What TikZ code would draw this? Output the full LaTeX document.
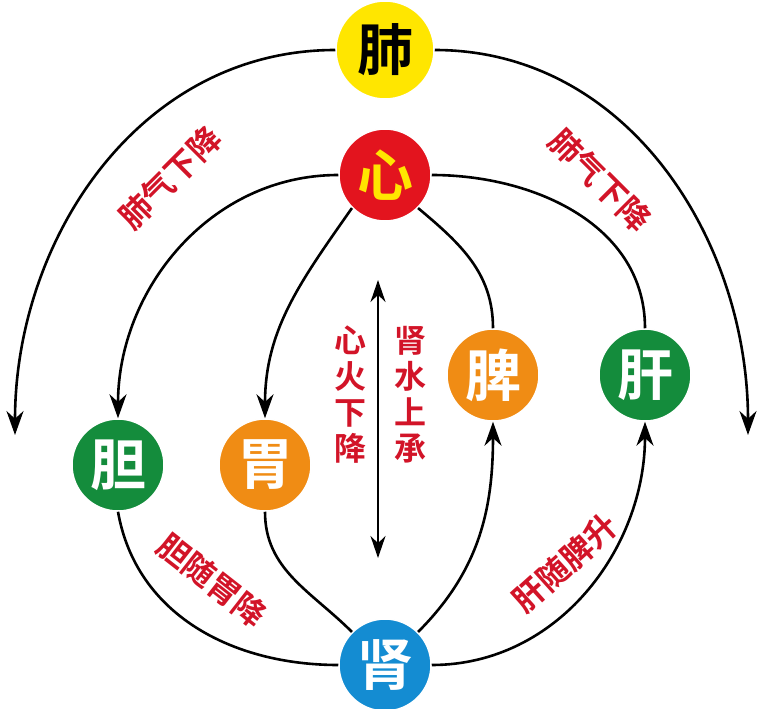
\documentclass[tikz,border=0pt]{standalone}
\usepackage{fontspec}
\setmainfont{Noto Sans CJK SC Bold}
\usetikzlibrary{arrows.meta}
\definecolor{zred}{RGB}{227,20,30}
\definecolor{zyellow}{RGB}{255,230,0}
\definecolor{zgreen}{RGB}{20,140,60}
\definecolor{zorange}{RGB}{240,140,20}
\definecolor{zblue}{RGB}{20,140,210}
\definecolor{ztext}{RGB}{210,20,40}
\tikzset{organ/.style = {circle, draw=white, line width=1.5pt, minimum size=92pt, inner sep=0pt, font=\fontsize{56}{56}\selectfont, text=white}}
\tikzset{flow/.style = {line width=2.6pt, -{Stealth[length=24pt, width=17pt]}}}
\tikzset{plain/.style = {line width=2.6pt}}
\tikzset{lab/.style = {text=ztext, font=\fontsize{32}{36}\selectfont}}
\begin{document}
\begin{tikzpicture}[x=1pt, y=-1pt]
  \useasboundingbox (0,0) rectangle (774,709);
  \coordinate (endL) at (15,435);
  \coordinate (endR) at (748,435);
  \coordinate (top) at (378,280);
  \coordinate (bot) at (378,558);

  \node [organ, fill=zyellow, text=black, minimum size=98pt] (fei) at (385,50) {肺};
  \node [organ, fill=zred, text=zyellow] (xin) at (385,175) {心};
  \node [organ, fill=zorange] (pi) at (493,375) {脾};
  \node [organ, fill=zgreen] (gan) at (645,375) {肝};
  \node [organ, fill=zgreen] (dan) at (118,465) {胆};
  \node [organ, fill=zorange] (wei) at (265,465) {胃};
  \node [organ, fill=zblue] (shen) at (385,665) {肾};

  \draw[flow] (fei.west) to[out=180, in=90] (endL);
  \draw[flow] (fei.east) to[out=0, in=90] (endR);
  \draw[flow] (xin.west) to[out=180, in=90] (dan.north);
  \draw[flow] (xin.south west) to[out=235, in=90] (wei.north);
  \draw[plain] (xin.south east) to[out=-40, in=90] (pi.north);
  \draw[plain] (xin.east) to[out=0, in=90] (gan.north);
  \draw[plain] (shen.west) to[out=180, in=-80] (dan.south);
  \draw[plain] (shen.north west) to[out=135, in=-90] (wei.south);
  \draw[flow] (shen.north east) to[out=45, in=-90] (pi.south);
  \draw[flow] (shen.east) to[out=0, in=-90] (gan.south);
  \draw[line width=2.6pt, {Stealth[length=22pt, width=15pt]}-{Stealth[length=22pt, width=15pt]}] (top) -- (bot);

  \node [lab, rotate=45] (t1) at (170,178) {肺气下降};
  \node [lab, rotate=-45] (t2) at (600,180) {肺气下降};
  \node [lab, align=center] (t3) at (350,395) {心\\火\\下\\降};
  \node [lab, align=center] (t4) at (410,395) {肾\\水\\上\\承};
  \node [lab, rotate=-38] (t5) at (212,580) {胆随胃降};
  \node [lab, rotate=42] (t6) at (565,563) {肝随脾升};
\end{tikzpicture}
\end{document}
